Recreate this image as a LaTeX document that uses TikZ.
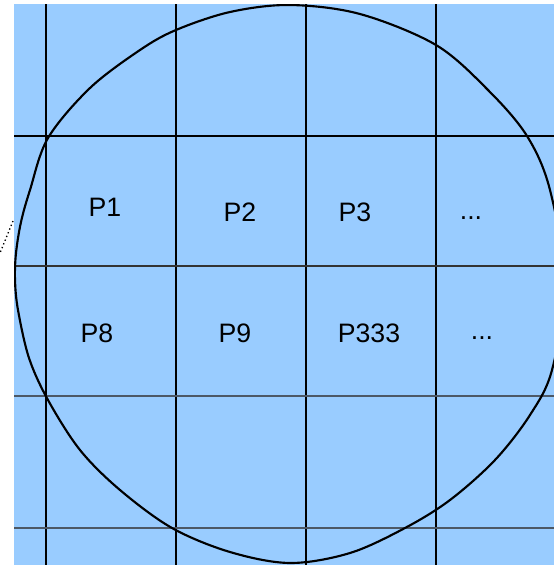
\documentclass[tikz,border=0pt]{standalone}
\usepackage{fontspec}
\setmainfont{Liberation Sans}
\definecolor{bgblue}{HTML}{99CCFF}
\definecolor{hgray}{HTML}{4C5866}
\begin{document}
\begin{tikzpicture}[x=0.75pt,y=-0.75pt,
  vline/.style={draw=black,line width=1pt},
  hline/.style={draw=hgray,line width=1.2pt},
  outline/.style={draw=black,line width=1.6pt},
  lbl/.style={font=\fontsize{20}{22}\selectfont,inner sep=0pt}]
\useasboundingbox (0,0) rectangle (554,565);
\fill[bgblue] (14,4) rectangle (554,565);
\begin{scope}
\clip (14,4) rectangle (554,565);
% grid
\foreach \x in {46,176,306,436} \draw[vline] (\x,4) -- (\x,565);
\draw[draw=black,line width=1pt] (14,136) -- (554,136);
\draw[draw=black!80,line width=1pt] (14,266) -- (554,266);
\foreach \y in {396,528} \draw[hline] (14,\y) -- (554,\y);
% outline
\draw[outline] plot[smooth cycle,tension=0.55] coordinates {
 (290,5) (360,14) (436,45) (488,90) (527,136) (550,190) (565,284) (552,370)
 (530,415) (495,460) (450,500) (405,528) (350,553) (290,563) (230,552)
 (172,528) (120,490) (80,450) (48,400) (29,358) (18,310) (15,280) (16,253)
 (21,222) (30,190) (48,138) (90,88) (140,50) (176,30) (230,12)};
\end{scope}
\coordinate (d1) at (13,221);
\coordinate (d2) at (0,253);
\draw[dotted,line width=1pt] (d1) -- (d2);
% labels
\node[lbl] (p1) at (105,207) {P1};
\node[lbl] (p2) at (240,212) {P2};
\node[lbl] (p3) at (355,212) {P3};
\node[lbl,anchor=base] (e1) at (471,219) {...};
\node[lbl] (p8) at (97,333) {P8};
\node[lbl] (p9) at (235,333) {P9};
\node[lbl] (p333) at (369,333) {P333};
\node[lbl,anchor=base] (e2) at (482,339) {...};
\end{tikzpicture}
\end{document}
